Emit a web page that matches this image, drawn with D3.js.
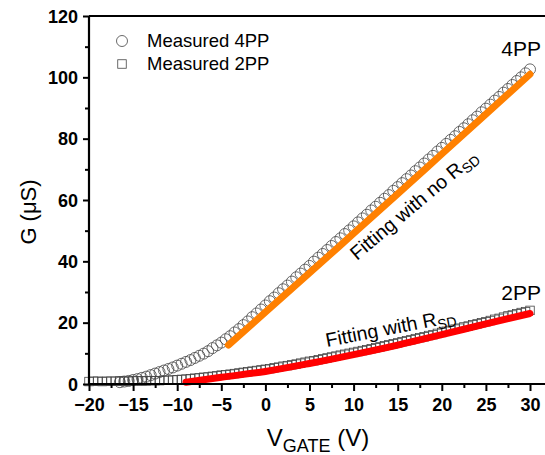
<!DOCTYPE html>
<html><head><meta charset="utf-8">
<script src="https://cdn.jsdelivr.net/npm/d3@7"></script>
<style>body{margin:0;background:#fff}svg{display:block}text{font-family:"Liberation Sans",Arial,sans-serif}</style>
</head><body><svg id="c" width="545" height="455"></svg>
<script>
// ---- data ----
const xTicks = [-20,-15,-10,-5,0,5,10,15,20,25,30];
const yTicks = [0,20,40,60,80,100,120];
const legendLabels = ["Measured 4PP","Measured 2PP"];
const measured4PP = [[-16.5,0.6],[-16,0.8],[-15.5,1.0],[-15,1.3],[-14.5,1.6],[-14,2.0],[-13.5,2.4],[-13,2.9],[-12.5,3.4],[-12,3.9],[-11.5,4.4],[-11,4.9],[-10.5,5.4],[-10,6.0],[-9.5,6.6],[-9,7.2],[-8.5,7.8],[-8,8.5],[-7.5,9.2],[-7,9.9],[-6.5,10.7],[-6,11.7],[-5.5,12.6],[-5,13.5],[-4.5,14.6],[-4,15.6],[-3.5,16.8],[-3,17.9],[-2.5,19.2],[-2,20.4],[-1.5,21.8],[-1,23.0],[-0.5,24.3],[0,25.6],
[0.5,27.0],[1,28.2],[1.5,29.6],[2,30.9],[2.5,32.1],[3,33.4],[3.5,34.8],[4,36.0],[4.5,37.3],[5,38.5],[5.5,39.9],[6,41.2],[6.5,42.4],[7,43.7],[7.5,45.0],[8,46.3],[8.5,47.5],[9,48.9],[9.5,50.1],[10,51.4],[10.5,52.7],[11,54.0],[11.5,55.2],[12,56.6],[12.5,57.8],[13,59.1],[13.5,60.4],[14,61.6],[14.5,63.0],[15,64.2],[15.5,65.5],[16,66.8],[16.5,68.0],[17,69.4],[17.5,70.6],[18,71.9],[18.5,73.2],[19,74.4],[19.5,75.8],[20,77.0],[20.5,78.3],[21,79.6],[21.5,80.8],[22,82.2],[22.5,83.4],[23,84.7],[23.5,86.0],[24,87.2],[24.5,88.6],[25,89.8],[25.5,91.1],[26,92.4],[26.5,93.6],[27,95.0],[27.5,96.2],[28,97.5],[28.5,98.8],[29,100.0],[29.5,101.3],[30,102.6]];
const measured2PP = [[-20,0.8],[-19.5,0.9],[-19,0.9],[-18.5,0.8],[-18,0.9],[-17.5,0.9],[-17,0.9],[-16.5,1.0],[-16,0.9],[-15.5,0.9],[-15,1.0],[-14.5,1.0],[-14,1.0],[-13.5,1.0],[-13,1.1],[-12.5,1.1],[-12,1.1],[-11.5,1.2],[-11,1.2],[-10.5,1.3],[-10,1.4],[-9.5,1.5],[-9,1.6],[-8.5,1.7],[-8,1.9],[-7.5,2.0],[-7,2.2],[-6.5,2.3],[-6,2.5],[-5.5,2.7],[-5,2.9],[-4.5,3.0],[-4,3.2],[-3.5,3.4],[-3,3.6],[-2.5,3.8],[-2,4.0],[-1.5,4.2],[-1,4.4],[-0.5,4.6],[0,4.8],
[0.5,5.0],[1,5.3],[1.5,5.5],[2,5.8],[2.5,6.0],[3,6.3],[3.5,6.5],[4,6.8],[4.5,7.1],[5,7.4],[5.5,7.6],[6,7.9],[6.5,8.2],[7,8.5],[7.5,8.8],[8,9.1],[8.5,9.4],[9,9.7],[9.5,10.0],[10,10.3],[10.5,10.6],[11,10.9],[11.5,11.2],[12,11.5],[12.5,11.8],[13,12.1],[13.5,12.5],[14,12.8],[14.5,13.1],[15,13.4],[15.5,13.8],[16,14.1],[16.5,14.4],[17,14.8],[17.5,15.1],[18,15.4],[18.5,15.8],[19,16.1],[19.5,16.5],[20,16.8],[20.5,17.2],[21,17.5],[21.5,17.9],[22,18.2],[22.5,18.6],[23,18.9],[23.5,19.3],[24,19.6],[24.5,20.0],[25,20.3],[25.5,20.7],[26,21.1],[26.5,21.4],[27,21.8],[27.5,22.2],[28,22.5],[28.5,22.9],[29,23.3],[29.5,23.6],[30,24.0]];
const fitNoRsd = [[-4.2,12.7],[0,23.4],[5,36.2],[10,49.1],[15,62.0],[20,75.0],[25,88.0],[30,101.0]];
const fitRsd = [[-9,0.6],[-5,2.2],[0,4.1],[5,6.7],[10,9.6],[15,12.7],[20,16.1],[25,19.6],[30,23.0]];

// ---- chart ----
const svg = d3.select("#c");
const x = d3.scaleLinear().domain([-20,30]).range([89,530]);
const y = d3.scaleLinear().domain([0,120]).range([384,16]);
const xEnd = 545;

// markers
svg.append("g").selectAll("circle").data(measured4PP).join("circle")
  .attr("cx",d=>x(d[0])).attr("cy",d=>y(d[1])).attr("r",5.5)
  .attr("fill","none").attr("stroke","#444").attr("stroke-width",0.8);
const sq = 8.5;
svg.append("g").selectAll("rect").data(measured2PP).join("rect")
  .attr("x",d=>x(d[0])-sq/2).attr("y",d=>y(d[1])-sq/2).attr("width",sq).attr("height",sq)
  .attr("fill","none").attr("stroke","#444").attr("stroke-width",0.8);

// fits
const line = d3.line().x(d=>x(d[0])).y(d=>y(d[1])).curve(d3.curveMonotoneX);
svg.append("path").attr("d",line(fitNoRsd)).attr("fill","none").attr("stroke","#ff8000").attr("stroke-width",7).attr("stroke-linecap","round");
svg.append("path").attr("d",line(fitRsd)).attr("fill","none").attr("stroke","#ff0000").attr("stroke-width",7).attr("stroke-linecap","round");

// axes
const gx = svg.append("g").attr("transform",`translate(0,${y(0)})`);
gx.call(d3.axisBottom(x).tickValues(xTicks).tickSize(7).tickFormat(d3.format("d")));
const gxm = svg.append("g").attr("transform",`translate(0,${y(0)})`);
gxm.call(d3.axisBottom(x).tickValues(xTicks.slice(0,-1).map(v=>v+2.5)).tickSize(4).tickFormat(""));
const gy = svg.append("g").attr("transform",`translate(${x(-20)},0)`);
gy.call(d3.axisLeft(y).tickValues(yTicks).tickSize(6));
const gym = svg.append("g").attr("transform",`translate(${x(-20)},0)`);
gym.call(d3.axisLeft(y).tickValues(yTicks.slice(0,-1).map(v=>v+10)).tickSize(4).tickFormat(""));
[gx,gxm,gy,gym].forEach(g=>{
  g.selectAll(".domain").remove();
  g.selectAll("line").attr("stroke","#000").attr("stroke-width",2);
  g.selectAll("text").attr("font-size",18).attr("font-weight","bold").attr("fill","#000")
   .attr("font-family","Liberation Sans, Arial, sans-serif");
});
gx.selectAll("text").attr("dy","0.95em");
gy.selectAll("text").attr("dy","0.34em").attr("x",-11);
// axis lines
svg.append("line").attr("x1",x(-20)).attr("x2",xEnd).attr("y1",y(0)).attr("y2",y(0)).attr("stroke","#000").attr("stroke-width",2.2);
svg.append("line").attr("x1",x(-20)).attr("x2",x(-20)).attr("y1",y(0)+1).attr("y2",y(120)).attr("stroke","#000").attr("stroke-width",2.2);
svg.append("line").attr("x1",x(-20)).attr("x2",xEnd).attr("y1",y(120)).attr("y2",y(120)).attr("stroke","#000").attr("stroke-width",2);

// axis titles
svg.append("text").attr("transform","translate(36,212) rotate(-90)").attr("text-anchor","middle")
  .attr("font-size",22).text("G (\u03bcS)");
const xt = svg.append("text").attr("x",318).attr("y",446).attr("text-anchor","middle").attr("font-size",24);
xt.append("tspan").text("V");
xt.append("tspan").attr("font-size",18).attr("dy",6).text("GATE");
xt.append("tspan").attr("dy",-6).text(" (V)");

// legend
const lg = svg.append("g");
lg.append("circle").attr("cx",122).attr("cy",41).attr("r",5.5).attr("fill","none").attr("stroke","#444").attr("stroke-width",0.8);
lg.append("rect").attr("x",122-sq/2).attr("y",64-sq/2).attr("width",sq).attr("height",sq).attr("fill","none").attr("stroke","#444").attr("stroke-width",0.8);
lg.append("text").attr("x",147).attr("y",47).attr("font-size",18.5).text(legendLabels[0]);
lg.append("text").attr("x",147).attr("y",70).attr("font-size",18.5).text(legendLabels[1]);

// annotations
svg.append("text").attr("x",541).attr("y",56).attr("text-anchor","end").attr("font-size",21).text("4PP");
svg.append("text").attr("x",541).attr("y",300).attr("text-anchor","end").attr("font-size",21).text("2PP");
const a1 = svg.append("text").attr("transform","translate(357,261) rotate(-40)").attr("font-size",19.5);
a1.append("tspan").text("Fitting with no R");
a1.append("tspan").attr("font-size",14).attr("dy",4).text("SD");
const a2 = svg.append("text").attr("transform","translate(327,347) rotate(-11)").attr("font-size",19.5);
a2.append("tspan").text("Fitting with R");
a2.append("tspan").attr("font-size",14).attr("dy",4).text("SD");
</script></body></html>
